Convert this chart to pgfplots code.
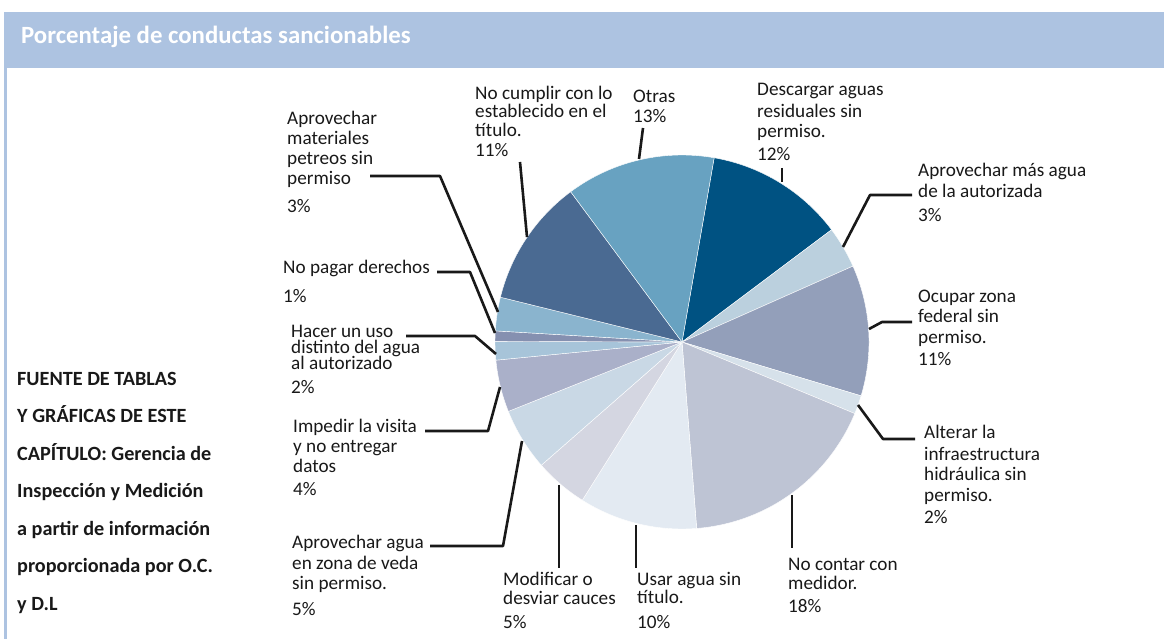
\documentclass[border=0pt]{standalone}
\usepackage{pgfplots}
\pgfplotsset{compat=1.18}
\usepackage{fontspec}
\setmainfont{Carlito}
\definecolor{head}{HTML}{ADC3E1}
\definecolor{s1}{HTML}{005282}
\definecolor{s2}{HTML}{BBD0DE}
\definecolor{s3}{HTML}{939FBA}
\definecolor{s4}{HTML}{D6E1EA}
\definecolor{s5}{HTML}{BEC4D4}
\definecolor{s6}{HTML}{E3EAF2}
\definecolor{s7}{HTML}{D4D6E1}
\definecolor{s8}{HTML}{C9D8E5}
\definecolor{s9}{HTML}{AAB0C9}
\definecolor{s10}{HTML}{A7C4D9}
\definecolor{s11}{HTML}{8590B0}
\definecolor{s12}{HTML}{8AB4CE}
\definecolor{s13}{HTML}{4A6A92}
\definecolor{s14}{HTML}{68A2C1}
\newcommand{\labfont}{\fontsize{19.2}{21}\selectfont}
\newcommand{\tl}[3]{\node[anchor=base west, inner sep=0pt, font=\labfont, text=black!90] at (axis cs:#1,#2) {#3};}
\newcommand{\srcl}[3]{\node[anchor=base west, inner sep=0pt, font=\bfseries\fontsize{20.2}{22}\selectfont, text=black!90] at (axis cs:#1,#2) {#3};}
\begin{document}
\begin{tikzpicture}
\begin{axis}[width=1164pt, height=639pt, scale only axis,
  xmin=0, xmax=1164, ymin=0, ymax=639, y dir=reverse,
  hide axis, clip=false]
% background and frame
\fill[white] (axis cs:0,0) rectangle (axis cs:1164,639);
\fill[head] (axis cs:4,12) rectangle (axis cs:1164,68);
\fill[head] (axis cs:4,68) rectangle (axis cs:6.5,639);
\node[anchor=base west, inner sep=0pt, text=white, font=\bfseries\fontsize{24.8}{28}\selectfont] at (axis cs:21,44) {Porcentaje de conductas sancionables};
% pie slices (percent, clockwise from 80.1 degrees)
\gdef\cum{0}
\foreach \v/\c in {12.0/s1, 3.6/s2, 11.3/s3, 1.6/s4, 17.5/s5, 10.2/s6, 4.6/s7, 5.4/s8, 4.5/s9, 1.6/s10, 0.9/s11, 2.9/s12, 11.0/s13, 12.9/s14}{
  \pgfmathsetmacro\sA{80.1-3.6*\cum}
  \pgfmathsetmacro\sB{80.1-3.6*(\cum+\v)}
  \edef\temp{\noexpand\addplot[fill=\c, draw=white, line width=0.4pt, domain=\sB:\sA, samples=60] ({682+187*cos(x)},{342-187*sin(x)}) -- (axis cs:682,342) -- cycle;}
  \temp
  \pgfmathsetmacro\n{\cum+\v}
  \xdef\cum{\n}
}
% leader lines
\begin{scope}[line width=2.6pt, black!90, line join=round]
\draw (axis cs:782,168) -- (axis cs:782,182);
\draw (axis cs:843,247) -- (axis cs:870,195) -- (axis cs:912,195);
\draw (axis cs:869,329) -- (axis cs:882,322) -- (axis cs:912,322);
\draw (axis cs:858,405) -- (axis cs:883,439) -- (axis cs:915,439);
\draw (axis cs:792,495) -- (axis cs:792,548);
\draw (axis cs:636,525) -- (axis cs:636,568);
\draw (axis cs:559,485) -- (axis cs:559,568);
\draw (axis cs:522,441) -- (axis cs:503,546) -- (axis cs:430,546);
\draw (axis cs:500,387) -- (axis cs:488,431) -- (axis cs:425,431);
\draw (axis cs:496,354) -- (axis cs:475,336) -- (axis cs:406,336);
\draw (axis cs:495,333) -- (axis cs:470,272) -- (axis cs:437,272);
\draw (axis cs:498,312) -- (axis cs:440,176) -- (axis cs:370,176);
\draw (axis cs:527,237) -- (axis cs:520,162);
\draw (axis cs:639,159) -- (axis cs:643,128);
\end{scope}
% labels
\tl{757}{96}{Descargar aguas}
\tl{757}{118}{residuales sin}
\tl{757}{138}{permiso.}
\tl{757}{161}{12\%}
\tl{918}{177}{Aprovechar más agua}
\tl{918}{198}{de la autorizada}
\tl{918}{222}{3\%}
\tl{918}{302}{Ocupar zona}
\tl{918}{322}{federal sin}
\tl{918}{343}{permiso.}
\tl{918}{365}{11\%}
\tl{924}{438}{Alterar la}
\tl{924}{460}{infraestructura}
\tl{924}{480}{hidráulica sin}
\tl{924}{501}{permiso.}
\tl{924}{523}{2\%}
\tl{788}{570}{No contar con}
\tl{788}{589}{medidor.}
\tl{788}{612}{18\%}
\tl{637}{585}{Usar agua sin}
\tl{637}{603}{título.}
\tl{637}{628}{10\%}
\tl{503}{585}{Modificar o}
\tl{503}{604}{desviar cauces}
\tl{503}{628}{5\%}
\tl{292}{548}{Aprovechar agua}
\tl{292}{569}{en zona de veda}
\tl{292}{589}{sin permiso.}
\tl{292}{615}{5\%}
\tl{293}{432}{Impedir la visita}
\tl{293}{452}{y no entregar}
\tl{293}{472}{datos}
\tl{293}{495}{4\%}
\tl{291}{337}{Hacer un uso}
\tl{291}{353}{distinto del agua}
\tl{291}{369}{al autorizado}
\tl{291}{393}{2\%}
\tl{283}{273}{No pagar derechos}
\tl{283}{302}{1\%}
\tl{287}{125}{Aprovechar}
\tl{287}{145}{materiales}
\tl{287}{165}{petreos sin}
\tl{287}{185}{permiso}
\tl{287}{212}{3\%}
\tl{475}{100}{No cumplir con lo}
\tl{475}{118}{establecido en el}
\tl{475}{137}{título.}
\tl{475}{157}{11\%}
\tl{633}{103}{Otras}
\tl{633}{123}{13\%}
% source
\srcl{17}{385}{FUENTE DE TABLAS}
\srcl{17}{422.5}{Y GRÁFICAS DE ESTE}
\srcl{17}{460}{CAPÍTULO: Gerencia de}
\srcl{17}{497.5}{Inspección y Medición}
\srcl{17}{535}{a partir de información}
\srcl{17}{572.5}{proporcionada por O.C.}
\srcl{17}{610}{y D.L}
\end{axis}
\end{tikzpicture}
\end{document}
